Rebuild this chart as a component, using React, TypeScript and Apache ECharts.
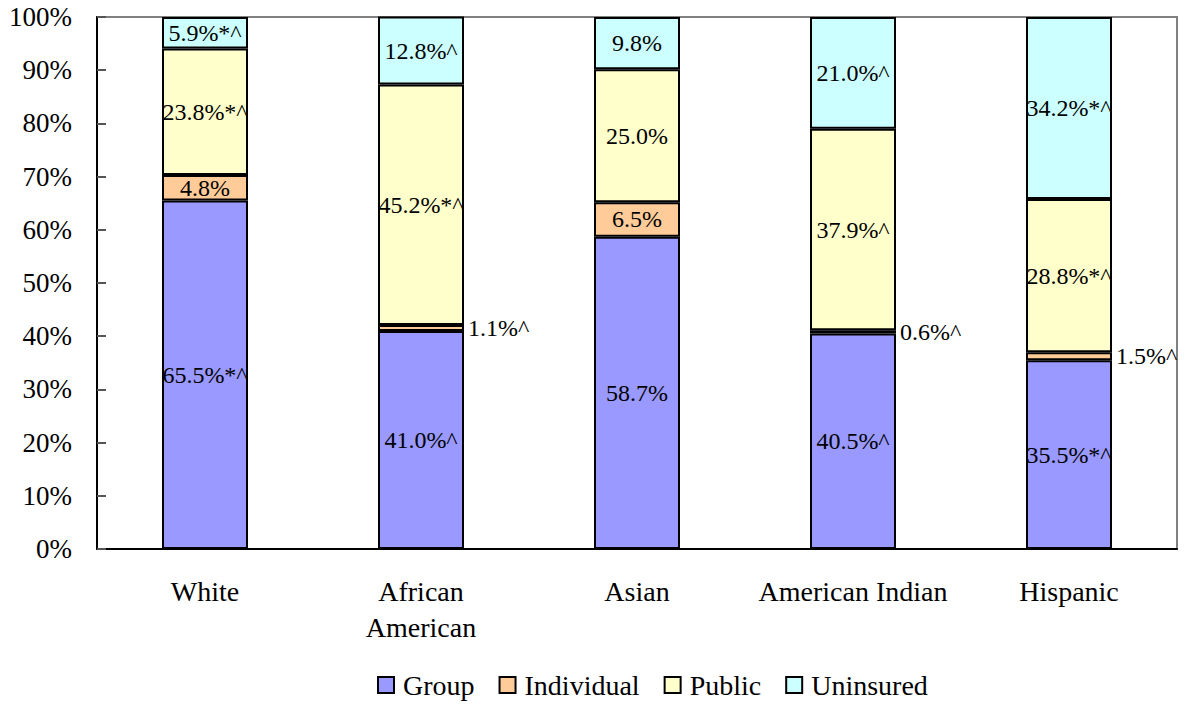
import React, { useEffect, useRef } from "react";
import * as echarts from "echarts";

const categories = ["White", "African\nAmerican", "Asian", "American Indian", "Hispanic"];
const groupValues = [65.5, 41.0, 58.7, 40.5, 35.5];
const individualValues = [4.8, 1.1, 6.5, 0.6, 1.5];
const publicValues = [23.8, 45.2, 25.0, 37.9, 28.8];
const uninsuredValues = [5.9, 12.8, 9.8, 21.0, 34.2];
const groupMarks = ["*^", "^", "", "^", "*^"];
const individualMarks = ["", "^", "", "^", "^"];
const publicMarks = ["*^", "*^", "", "^", "*^"];
const uninsuredMarks = ["*^", "^", "", "^", "*^"];
const yTicks = [0, 10, 20, 30, 40, 50, 60, 70, 80, 90, 100];

const FONT = "'Liberation Serif', 'Times New Roman', serif";

function makeSeries(name: string, values: number[], marks: string[], color: string) {
  return {
    name,
    type: "bar",
    stack: "total",
    barWidth: 86,
    itemStyle: { color, borderColor: "#000", borderWidth: 2 },
    data: values.map((v, i) => {
      const small = v < 2;
      return {
        value: v,
        label: {
          show: true,
          position: small ? "right" : "inside",
          distance: 4,
          formatter: () => v.toFixed(1) + "%" + marks[i],
          fontFamily: FONT,
          fontSize: 24,
          color: "#000",
        },
      };
    }),
  };
}

export default function App() {
  const ref = useRef<HTMLDivElement>(null);
  useEffect(() => {
    if (!ref.current) return;
    const chart = echarts.init(ref.current, undefined, { renderer: "svg" });
    chart.setOption({
      animation: false,
      backgroundColor: "#fff",
      textStyle: { fontFamily: FONT, color: "#000" },
      grid: {
        left: 97,
        right: 12,
        top: 17,
        bottom: 155,
        show: true,
        borderColor: "#808080",
        borderWidth: 2,
        backgroundColor: "transparent",
      },
      legend: {
        bottom: 0,
        left: 372,
        itemWidth: 16,
        itemHeight: 16,
        itemGap: 24,
        icon: "rect",
        textStyle: { fontFamily: FONT, fontSize: 28, color: "#000", padding: [0, 0, 0, 4] },
        data: ["Group", "Individual", "Public", "Uninsured"],
      },
      xAxis: {
        type: "category",
        data: categories,
        axisLine: { show: true, lineStyle: { color: "#000", width: 2 } },
        axisTick: { show: false },
        axisLabel: {
          fontFamily: FONT,
          fontSize: 28,
          color: "#000",
          margin: 24,
          lineHeight: 36,
          interval: 0,
        },
      },
      yAxis: {
        type: "value",
        min: yTicks[0],
        max: yTicks[yTicks.length - 1],
        interval: 10,
        axisLine: { show: true, lineStyle: { color: "#000", width: 2 } },
        axisTick: { show: true, inside: true, length: 9, lineStyle: { color: "#555", width: 2 } },
        splitLine: { show: false },
        axisLabel: {
          formatter: "{value}%",
          fontFamily: FONT,
          fontSize: 27,
          color: "#000",
          margin: 25,
        },
      },
      series: [
        makeSeries("Group", groupValues, groupMarks, "#9999FF"),
        makeSeries("Individual", individualValues, individualMarks, "#FFCC99"),
        makeSeries("Public", publicValues, publicMarks, "#FFFFCC"),
        makeSeries("Uninsured", uninsuredValues, uninsuredMarks, "#CCFFFF"),
      ],
    });
    return () => chart.dispose();
  }, []);
  return (
    <div
      ref={ref}
      style={{ position: "fixed", left: 0, top: 0, width: 1189, height: 704 }}
    />
  );
}
